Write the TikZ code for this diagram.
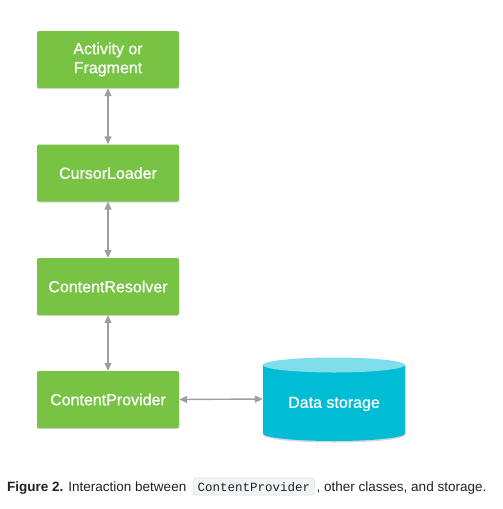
\documentclass[tikz,border=0pt]{standalone}
\usepackage{fontspec}
\setmainfont{Liberation Sans}
\setmonofont{Liberation Mono}
\newfontfamily\boxfont[FakeBold=0.7]{Liberation Sans}
\usetikzlibrary{positioning,shadows,arrows.meta}
\definecolor{boxgreen}{HTML}{78C244}
\definecolor{cylbody}{HTML}{00BCD4}
\definecolor{cyltop}{HTML}{80DEEA}
\definecolor{arrowgray}{HTML}{9E9E9E}
\definecolor{codefill}{HTML}{F1F3F4}
\definecolor{codeline}{HTML}{DADCE0}
\definecolor{captext}{HTML}{202124}
\tikzset{
  classbox/.style={fill=boxgreen, rounded corners=2pt, minimum width=142pt, minimum height=57pt,
    text=white, font=\boxfont\fontsize{16}{19}\selectfont, align=center,
    drop shadow={shadow xshift=0pt, shadow yshift=-1.2pt, opacity=0.25, fill=black!60}},
  link/.style={{Triangle[length=8pt,width=7pt]}-{Triangle[length=8pt,width=7pt]},
    draw=arrowgray, fill=arrowgray, line width=1.4pt},
  captxt/.style={inner sep=0pt, text=captext, font=\fontsize{13.5}{16}\selectfont}
}
\begin{document}
\begin{tikzpicture}[x=1pt, y=-1pt]
  \useasboundingbox (0,0) rectangle (503,509);
  \node[classbox] (activity) at (108,59.5) {Activity or\\Fragment};
  \node[classbox] (loader) at (108,173) {CursorLoader};
  \node[classbox] (resolver) at (108,286.5) {ContentResolver};
  \node[classbox] (provider) at (108,399.5) {ContentProvider};
  % data storage cylinder
  \node[minimum width=142pt, minimum height=84pt, inner sep=0pt] (storage) at (334,399) {};
  \fill[black!15] (263,367) -- (263,435) arc[start angle=180, end angle=0, x radius=71, y radius=7.5]
    -- (405,367) -- cycle;
  \fill[cylbody] (263,365) -- (263,433.5) arc[start angle=180, end angle=0, x radius=71, y radius=7.5]
    -- (405,365) -- cycle;
  \fill[cyltop] (334,365) ellipse[x radius=71, y radius=7.5];
  \node[text=white, font=\boxfont\fontsize{16}{19}\selectfont] at (334,404) {Data storage};
  \draw[link] (activity) -- (loader);
  \draw[link] (loader) -- (resolver);
  \draw[link] (resolver) -- (provider);
  \draw[link] (provider.east) -- (storage.west);
  % caption
  \node[captxt, anchor=base west] (cap1) at (7,491) {\textbf{Figure 2.} Interaction between};
  \node[captxt, anchor=base west, font=\ttfamily\fontsize{12.5}{15}\selectfont, fill=codefill,
    draw=codeline, line width=0.5pt, rounded corners=3pt, inner xsep=4pt, inner ysep=4pt]
    (code) at ([xshift=7pt]cap1.base east) {ContentProvider};
  \node[captxt, anchor=base west] (cap2) at ([xshift=2pt]code.base east) {, other classes, and storage.};
\end{tikzpicture}
\end{document}
